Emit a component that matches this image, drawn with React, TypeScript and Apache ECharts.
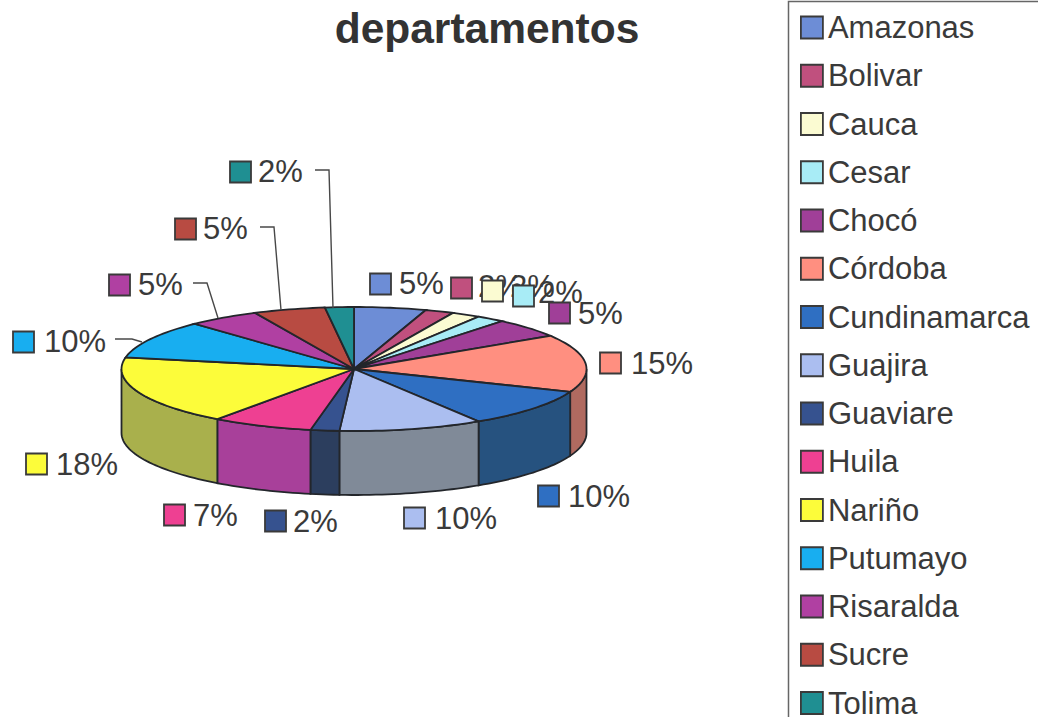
import React, { useEffect, useRef } from "react";
import * as echarts from "echarts";

const departments = ["Amazonas", "Bolivar", "Cauca", "Cesar", "Chocó", "Córdoba", "Cundinamarca", "Guajira", "Guaviare", "Huila", "Nariño", "Putumayo", "Risaralda", "Sucre", "Tolima"];
const shares = [5, 2, 2, 2, 5, 15, 10, 10, 2, 7, 18, 10, 5, 5, 2];
const topColors = ["#6d8dd6", "#c0507e", "#fbfbd2", "#a8ecf6", "#a03f98", "#ff8f80", "#2f6fc2", "#abbef0", "#36528f", "#ee4092", "#fcfc3a", "#18aef0", "#b040a2", "#b84b42", "#1f8f92"];
const sideColors = ["#4d6396", "#863858", "#b0b093", "#76a5ac", "#702c6a", "#b06a60", "#26527f", "#808a98", "#2c3e5e", "#a8409a", "#a9b04c", "#107aa8", "#7b2c71", "#81342e", "#166466"];

// swatch left, swatch centre y, text left, text centre y
const labelSpots = [
  [370, 284, 399, 283], [451, 288, 478, 286], [482, 291, 510, 286], [513, 296, 538, 292], [549, 313, 578, 313],
  [600, 363, 631, 363], [538, 496, 568, 496], [404, 518, 435, 518], [265, 521, 293, 521], [164, 515, 193, 515],
  [26, 464, 56, 464], [13, 342, 44, 341], [109, 285, 138, 284], [175, 229, 203, 228], [230, 172, 258, 171],
];
const leaderLines: Record<number, number[][]> = {
  11: [[115, 339], [132, 339], [142, 342]],
  12: [[193, 283], [207, 283], [218, 318]],
  13: [[260, 227], [274, 227], [281, 310]],
  14: [[315, 170], [329, 170], [333, 308]],
};

const CX = 354, CY = 369, RX = 232.5, RY = 62, DEPTH = 64;
const INK = "#23262b";
const FONT = "'Liberation Sans', Arial, sans-serif";
const total = shares.reduce((a, b) => a + b, 0);

const pt = (deg: number, dy = 0) => {
  const r = (deg * Math.PI) / 180;
  return [CX + RX * Math.sin(r), CY - RY * Math.cos(r) + dy];
};
const arc = (a: number, b: number, dy = 0) => {
  const out: number[][] = [];
  const n = Math.max(2, Math.ceil((b - a) / 1.5));
  for (let i = 0; i <= n; i++) out.push(pt(a + ((b - a) * i) / n, dy));
  return out;
};

function makeSeries(i: number) {
  const before = shares.slice(0, i).reduce((a, b) => a + b, 0);
  return {
    type: "custom",
    name: departments[i],
    coordinateSystem: "none",
    silent: true,
    itemStyle: { color: topColors[i] },
    data: [[shares[i]]],
    renderItem: (_p: any, api: any) => {
      const v = api.value(0);
      const a = (before / total) * 360;
      const b = ((before + v) / total) * 360;
      const children: any[] = [];
      const fa = Math.max(a, 90), fb = Math.min(b, 270);
      if (fa < fb) {
        children.push({
          type: "polygon",
          shape: { points: [...arc(fa, fb), ...arc(fa, fb, DEPTH).reverse()] },
          style: { fill: sideColors[i], stroke: INK, lineWidth: 1.8 },
        });
      }
      children.push({
        type: "polygon",
        shape: { points: [[CX, CY], ...arc(a, b)] },
        style: { fill: topColors[i], stroke: INK, lineWidth: 1.8 },
      });
      const [sx, sy, tx, ty] = labelSpots[i];
      if (leaderLines[i]) {
        children.push({
          type: "polyline",
          shape: { points: leaderLines[i] },
          style: { fill: "none", stroke: "#484848", lineWidth: 1.4 },
        });
      }
      children.push({
        type: "text",
        style: { text: `${v}%`, x: tx, y: ty, fontSize: 31, fontFamily: FONT, fill: "#3a3a3a", align: "left", verticalAlign: "middle" },
      });
      children.push({
        type: "rect",
        shape: { x: sx, y: sy - 10.5, width: 21, height: 21 },
        style: { fill: topColors[i], stroke: "#3a3a3a", lineWidth: 1.8 },
      });
      return { type: "group", children };
    },
  };
}

export default function App() {
  const ref = useRef<HTMLDivElement>(null);
  useEffect(() => {
    document.body.style.margin = "0";
    const chart = echarts.init(ref.current!, undefined, { renderer: "svg" });
    chart.setOption({
      animation: false,
      backgroundColor: "#ffffff",
      title: {
        text: "departamentos",
        left: 482,
        top: 2,
        textAlign: "center",
        textStyle: { fontSize: 42.5, fontWeight: "bold", fontFamily: FONT, color: "#333333" },
      },
      legend: {
        orient: "vertical",
        left: 800,
        top: 12,
        height: 800,
        padding: 0,
        itemWidth: 22,
        itemHeight: 22,
        itemGap: 17.25,
        icon: "rect",
        selectedMode: false,
        data: departments,
        itemStyle: { borderColor: "#3a3a3a", borderWidth: 1.8 },
        textStyle: { fontSize: 31, lineHeight: 30, fontFamily: FONT, color: "#3a3a3a" },
      },
      graphic: [
        {
          type: "rect",
          silent: true,
          shape: { x: 788.5, y: 1.5, width: 300, height: 800 },
          style: { fill: "transparent", stroke: "#666", lineWidth: 1.5 },
        },
      ],
      series: departments.map((_, i) => makeSeries(i)),
    });
    return () => chart.dispose();
  }, []);
  return <div ref={ref} style={{ position: "absolute", left: 0, top: 0, width: 1038, height: 717 }} />;
}
